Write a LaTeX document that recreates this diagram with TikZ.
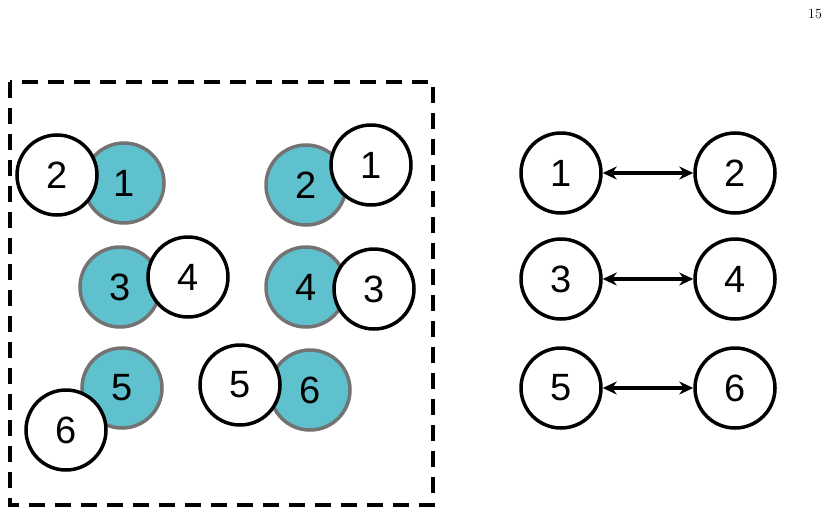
\documentclass[tikz,border=0pt]{standalone}
\usepackage{fontspec}
\setsansfont{Liberation Sans}
\usetikzlibrary{arrows.meta}
\begin{document}
\begin{tikzpicture}[x=1pt,y=-1pt,
  teal/.style={circle,draw=gray!90!black,line width=3.5pt,fill=cyan!45!teal!60!white,minimum size=80pt,inner sep=0pt,font=\sffamily\fontsize{38}{38}\selectfont},
  wc/.style={circle,draw=black,line width=3.5pt,fill=white,minimum size=80pt,inner sep=0pt,font=\sffamily\fontsize{38}{38}\selectfont}]
\tikzset{arr/.style={{Stealth[length=14pt,width=13pt]}-{Stealth[length=14pt,width=13pt]},draw=black,line width=4pt}}
\useasboundingbox (0,0) rectangle (832,514);
\definecolor{tl}{RGB}{94,193,205}
\tikzset{teal/.append style={fill=tl}}
\node[font=\fontsize{14}{14}\selectfont] (pg) at (815,14) {15};
\draw[line width=3.5pt,dash pattern=on 16pt off 10pt] (10,82) rectangle (433,505);
\node[teal] (t1) at (124,183) {1};
\node[wc] (w2) at (57,175) {2};
\node[teal] (t2) at (306,185) {2};
\node[wc] (w1) at (371,165) {1};
\node[teal] (t3) at (120,287) {3};
\node[wc] (w4) at (188,277) {4};
\node[teal] (t4) at (306,287) {4};
\node[wc] (w3) at (374,289) {3};
\node[teal] (t5) at (122,388) {5};
\node[wc] (w6) at (66,430) {6};
\node[teal] (t6) at (310,390) {6};
\node[wc] (w5) at (240,385) {5};
\node[wc] (a1) at (561,173) {1};
\node[wc] (a2) at (735,173) {2};
\node[wc] (a3) at (561,279) {3};
\node[wc] (a4) at (735,279) {4};
\node[wc] (a5) at (561,388) {5};
\node[wc] (a6) at (735,388) {6};
\draw[arr] (a1) -- (a2);
\draw[arr] (a3) -- (a4);
\draw[arr] (a5) -- (a6);
\end{tikzpicture}
\end{document}
